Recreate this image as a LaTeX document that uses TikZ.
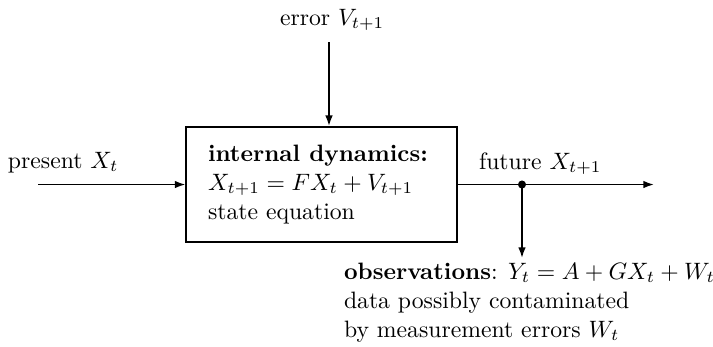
\documentclass[tikz,border=0pt]{standalone}
\usetikzlibrary{arrows.meta}
\begin{document}
\begin{tikzpicture}[x=0.422pt,y=-0.422pt,
  arr/.style={line width=0.7pt,-{Latex[length=4.5pt,width=3.2pt]}},
  lbl/.style={anchor=base west,inner sep=0pt,outer sep=0pt},
  box/.style={draw,line width=0.8pt,minimum width=114pt,minimum height=48.5pt,inner sep=0pt}]
\useasboundingbox (0,0) rectangle (713,346);
\node[box] (box) at (321.5,184.5) {};
\node[lbl] (t1) at (208,161) {\textbf{internal dynamics:}};
\node[lbl] (t2) at (208,190) {$X_{t+1}=FX_t+V_{t+1}$};
\node[lbl] (t3) at (208,219) {state equation};
\node[lbl] (pres) at (8,168) {present $X_t$};
\node[lbl] (err) at (280,25) {error $V_{t+1}$};
\node[lbl] (fut) at (479,169) {future $X_{t+1}$};
\node[lbl] (o1) at (344,279) {\textbf{observations}: $Y_t=A+GX_t+W_t$};
\node[lbl] (o2) at (344,308) {data possibly contaminated};
\node[lbl] (o3) at (344,337) {by measurement errors $W_t$};
\coordinate (in) at (38,184.5);
\coordinate (top) at (329,42);
\coordinate (dot) at (522,184.5);
\coordinate (out) at (654,184.5);
\coordinate (obs) at (522,258);
\draw[arr] (in) -- (box.west);
\draw[arr] (top) -- (top |- box.north);
\draw[arr] (box.east) -- (out);
\draw[arr] (dot) -- (obs);
\fill (dot) circle (1.7pt);
\end{tikzpicture}
\end{document}
